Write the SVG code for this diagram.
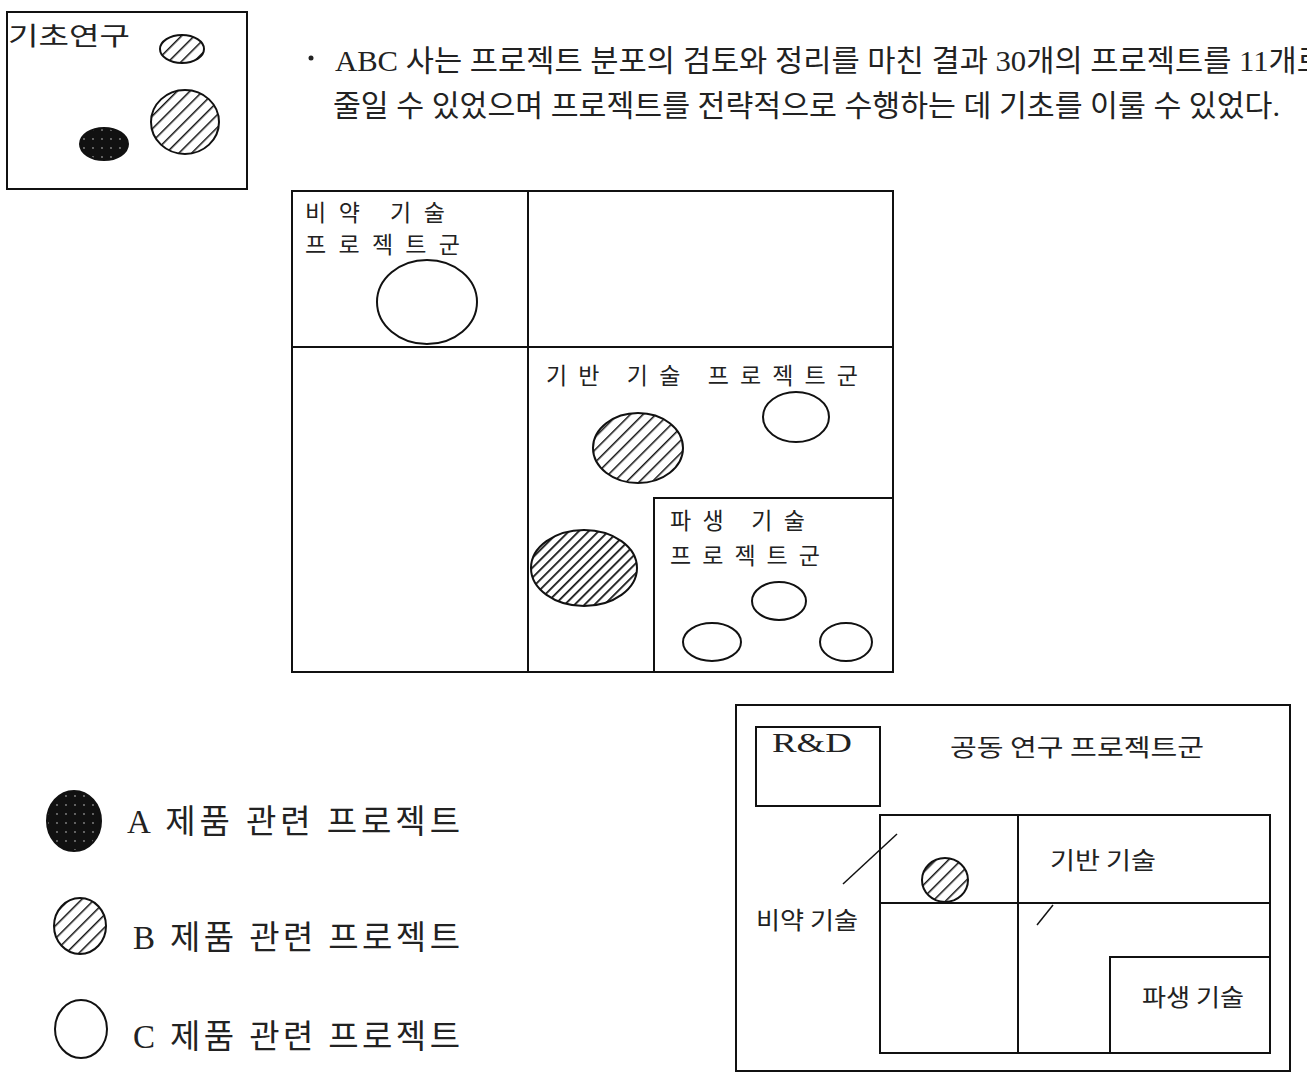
<svg xmlns="http://www.w3.org/2000/svg" width="1307" height="1072" viewBox="0 0 1307 1072">
<defs>
<pattern id="hatch" patternUnits="userSpaceOnUse" width="9" height="9" patternTransform="rotate(45)">
<rect width="9" height="9" fill="#fff"/>
<line x1="0" y1="0" x2="0" y2="9" stroke="#111" stroke-width="3"/>
</pattern>
<pattern id="hatchD" patternUnits="userSpaceOnUse" width="7" height="7" patternTransform="rotate(45)">
<rect width="7" height="7" fill="#fff"/>
<line x1="0" y1="0" x2="0" y2="7" stroke="#111" stroke-width="3.5"/>
</pattern>
<pattern id="dots" patternUnits="userSpaceOnUse" width="9" height="9">
<rect width="9" height="9" fill="#111"/>
<circle cx="3" cy="4" r="0.9" fill="#888"/>
</pattern>
<style>
.box{fill:none;stroke:#111;stroke-width:2}
.ln{stroke:#111;stroke-width:2}
.open{fill:#fff;stroke:#111;stroke-width:2}
.hat{fill:url(#hatch);stroke:#111;stroke-width:2}
.hatD{fill:url(#hatchD);stroke:#111;stroke-width:2}
.blk{fill:url(#dots);stroke:#111;stroke-width:2}
.t{font-family:"Noto Sans CJK KR","Noto Sans",sans-serif;fill:#222}
.s{font-family:"Liberation Serif","Noto Sans CJK KR",serif;fill:#222}
</style>
</defs>
<rect width="1307" height="1072" fill="#fff"/>

<g id="basic-research">
<rect class="box" x="7" y="12" width="240" height="177"/>
<text class="t" x="8" y="45" font-size="25" textLength="122" lengthAdjust="spacingAndGlyphs">기초연구</text>
<ellipse class="hat" cx="182" cy="49" rx="22" ry="14"/>
<ellipse class="hat" cx="185" cy="122" rx="34" ry="32"/>
<ellipse class="blk" cx="104" cy="144" rx="24" ry="16"/>
</g>

<g id="description">
<circle cx="311" cy="58" r="2.5" fill="#222"/>
<text class="s" x="335" y="71" font-size="30" textLength="990" lengthAdjust="spacingAndGlyphs">ABC 사는 프로젝트 분포의 검토와 정리를 마친 결과 30개의 프로젝트를 11개로</text>
<text class="s" x="333" y="116" font-size="30" textLength="947" lengthAdjust="spacingAndGlyphs">줄일 수 있었으며 프로젝트를 전략적으로 수행하는 데 기초를 이룰 수 있었다.</text>
</g>

<g id="portfolio-grid">
<rect class="box" x="292" y="191" width="601" height="481"/>
<line class="ln" x1="528" y1="191" x2="528" y2="672"/>
<line class="ln" x1="292" y1="347" x2="893" y2="347"/>
</g>

<g id="leap-tech-group">
<text class="t" x="305" y="221" font-size="23" textLength="140">비약  기술</text>
<text class="t" x="305" y="253" font-size="23" textLength="155">프로젝트군</text>
<ellipse class="open" cx="427" cy="302" rx="50" ry="42"/>
</g>

<g id="base-tech-group">
<text class="t" x="546" y="384" font-size="23" textLength="312">기반  기술  프로젝트군</text>
<ellipse class="open" cx="796" cy="417" rx="33" ry="25"/>
<ellipse class="hat" cx="638" cy="448" rx="45" ry="35"/>
<ellipse class="hatD" cx="584" cy="568" rx="53" ry="38"/>
</g>

<g id="derived-tech-group">
<rect class="box" x="654" y="498" width="239" height="174"/>
<text class="t" x="670" y="529" font-size="23" textLength="135">파생  기술</text>
<text class="t" x="670" y="564" font-size="23" textLength="150">프로젝트군</text>
<ellipse class="open" cx="779" cy="601" rx="27" ry="19"/>
<ellipse class="open" cx="712" cy="642" rx="29" ry="19"/>
<ellipse class="open" cx="846" cy="642" rx="26" ry="19"/>
</g>

<g id="legend">
<ellipse class="blk" cx="74" cy="821" rx="27" ry="30"/>
<text class="s" x="127" y="833" font-size="33" textLength="333">A  제품  관련  프로젝트</text>
<ellipse class="hat" cx="80" cy="926" rx="26" ry="28"/>
<text class="s" x="133" y="949" font-size="33" textLength="327">B 제품  관련  프로젝트</text>
<ellipse class="open" cx="81" cy="1029" rx="26" ry="29"/>
<text class="s" x="133" y="1048" font-size="33" textLength="327">C 제품  관련  프로젝트</text>
</g>

<g id="joint-research-group">
<rect class="box" x="736" y="705" width="554" height="366"/>
<text class="t" x="950" y="756" font-size="24" textLength="254" lengthAdjust="spacingAndGlyphs">공동 연구 프로젝트군</text>
</g>

<g id="rnd">
<rect class="box" x="756" y="727" width="124" height="79"/>
<text class="s" x="772" y="752" font-size="28" textLength="80" lengthAdjust="spacingAndGlyphs">R&amp;D</text>
</g>

<g id="joint-grid">
<rect class="box" x="880" y="815" width="390" height="238"/>
<line class="ln" x1="1018" y1="815" x2="1018" y2="1053"/>
<line class="ln" x1="880" y1="903" x2="1270" y2="903"/>
<ellipse class="hat" cx="945" cy="880" rx="23" ry="22"/>
<text class="t" x="1050" y="869" font-size="24" textLength="106" lengthAdjust="spacingAndGlyphs">기반 기술</text>
<text class="t" x="756" y="929" font-size="24" textLength="102" lengthAdjust="spacingAndGlyphs">비약 기술</text>
</g>

<g id="joint-derived">
<rect class="box" x="1110" y="957" width="160" height="96"/>
<text class="t" x="1142" y="1006" font-size="24" textLength="102" lengthAdjust="spacingAndGlyphs">파생 기술</text>
</g>

<g id="connectors">
<line x1="843" y1="884" x2="897" y2="834" stroke="#111" stroke-width="1.5"/>
<line x1="1037" y1="925" x2="1053" y2="905" stroke="#111" stroke-width="1.5"/>
</g>
</svg>
